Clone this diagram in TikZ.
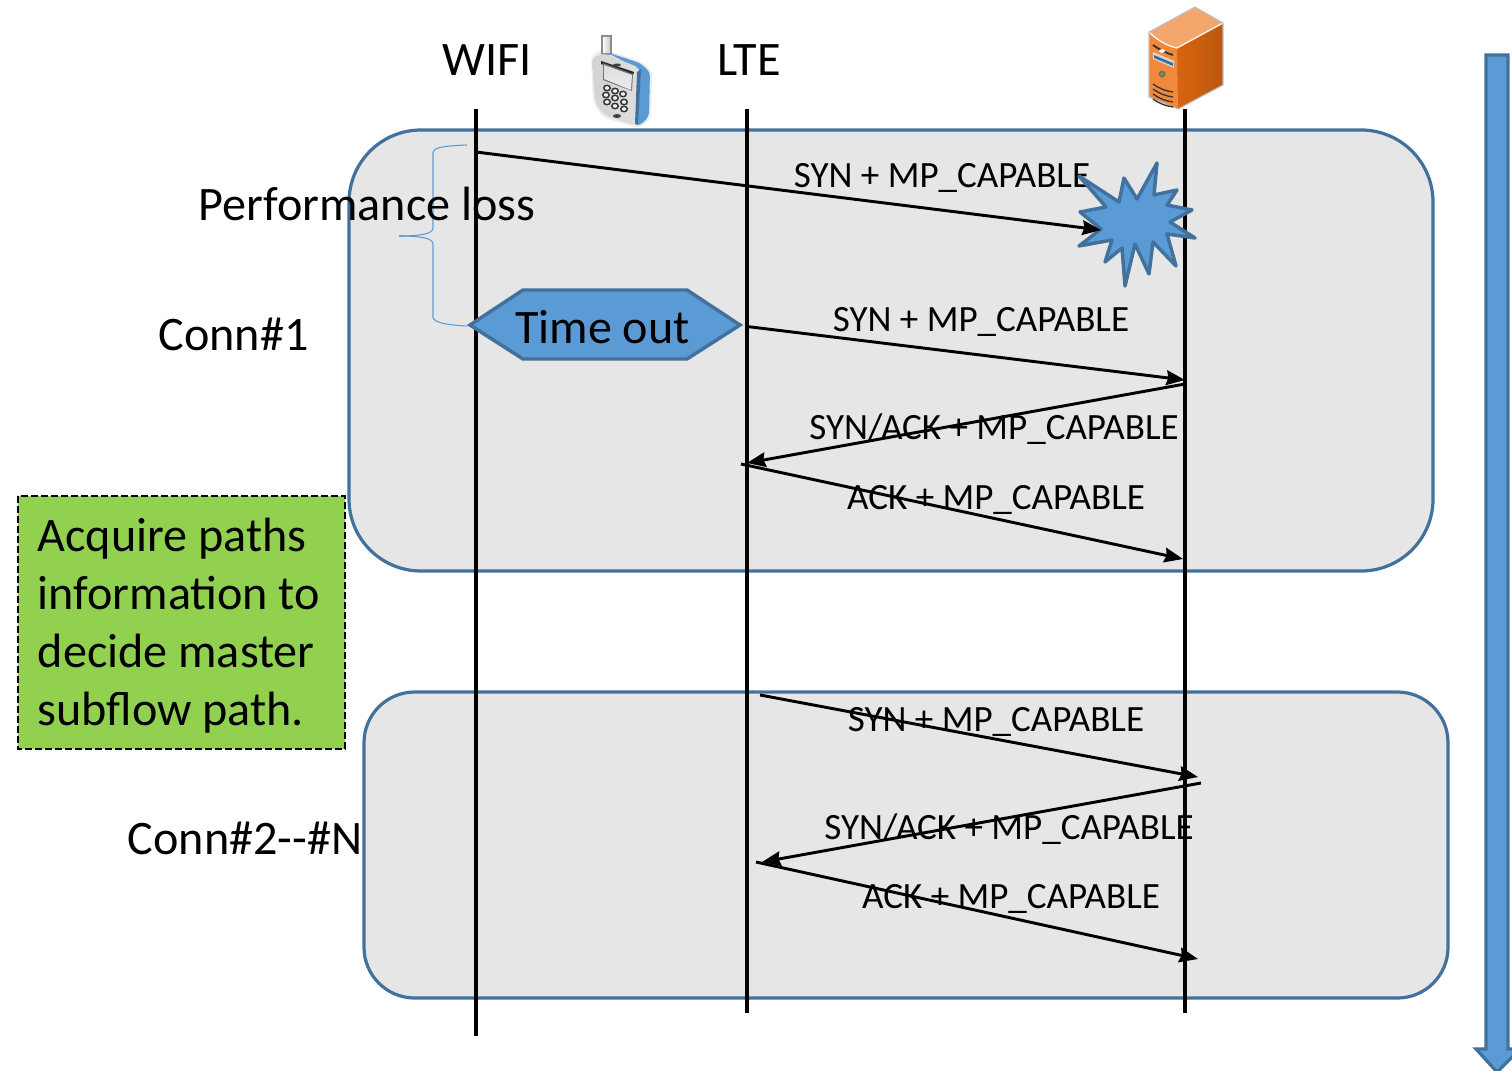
\documentclass[tikz,border=0pt]{standalone}
\usepackage{fontspec}
\setmainfont{Carlito}
\usetikzlibrary{arrows.meta}
\definecolor{shapeblue}{HTML}{5B9BD5}
\definecolor{shapeedge}{HTML}{41719C}
\definecolor{panelgrey}{HTML}{E6E6E6}
\definecolor{paneledge}{HTML}{41719C}
\definecolor{greenbox}{HTML}{92D050}
\definecolor{srvtopc}{HTML}{F4A76C}
\definecolor{srvfrontc}{HTML}{F0893B}
\definecolor{srvsidea}{HTML}{D9650F}
\definecolor{srvsideb}{HTML}{B9580F}
\tikzset{
  panel/.style={draw=paneledge,fill=panelgrey,line width=2.4pt},
  lifeline/.style={draw=black,line width=2.4pt},
  msg/.style={draw=black,line width=2.2pt,-{Stealth[length=14pt,width=11pt,inset=1.5pt]}},
  bigtext/.style={inner sep=0pt,font=\fontsize{36.1}{43}\selectfont,text=black},
  msgtext/.style={inner sep=0pt,font=\fontsize{27.8}{33}\selectfont,text=black},
  blueshape/.style={draw=shapeedge,fill=shapeblue,line width=2.6pt,line join=round},
  bracestyle/.style={draw=shapeblue,line width=0.8pt},
}
\begin{document}
\begin{tikzpicture}[x=0.75pt,y=-0.75pt]
\useasboundingbox (0,0) rectangle (1512,1070);
\clip (0,0) rectangle (1512,1070);
\fill[white] (0,0) rectangle (1512,1070);
% panels
\draw[panel,rounded corners=54pt] (349,130) rectangle (1433,571);
\draw[panel,rounded corners=38pt] (364,692) rectangle (1448,998);
% brace
\draw[bracestyle] (467,145) .. controls (445,146) and (433,147) .. (433,153) -- (433,228) .. controls (433,234) and (420,236) .. (399,236);
\draw[bracestyle] (399,236) .. controls (420,236) and (433,238) .. (433,244) -- (433,317) .. controls (433,322) and (445,325) .. (467,326);
% coordinates
\coordinate (wifitop) at (476,109); \coordinate (wifibot) at (476,1036);
\coordinate (ltetop) at (747,109); \coordinate (ltebot) at (747,1013);
\coordinate (srvtop) at (1185,109); \coordinate (srvbot) at (1185,1013);
\draw[lifeline] (wifitop) -- (wifibot);
\draw[lifeline] (ltetop) -- (ltebot);
\draw[lifeline] (srvtop) -- (srvbot);
% message labels
\node[msgtext] (l1) at (942,177.5) {SYN + MP\_CAPABLE};
\node[msgtext] (l2) at (981,321.5) {SYN + MP\_CAPABLE};
\node[msgtext] (l3) at (994,429.5) {SYN/ACK + MP\_CAPABLE};
\node[msgtext] (l4) at (996,499.5) {ACK + MP\_CAPABLE};
\node[msgtext] (l5) at (996,721.5) {SYN + MP\_CAPABLE};
\node[msgtext] (l6) at (1009,829.5) {SYN/ACK + MP\_CAPABLE};
\node[msgtext] (l7) at (1011,898.5) {ACK + MP\_CAPABLE};
% message coordinates
\coordinate (a1s) at (476,152); \coordinate (a1e) at (1101,230);
\coordinate (a2s) at (747,326.5); \coordinate (a2e) at (1185,380);
\coordinate (a3s) at (1185,384); \coordinate (a3e) at (747,463);
\coordinate (a4s) at (741,464); \coordinate (a4e) at (1183,559);
\coordinate (a5s) at (760,695); \coordinate (a5e) at (1198,777);
\coordinate (a6s) at (1201,783); \coordinate (a6e) at (762,862);
\coordinate (a7s) at (756,862); \coordinate (a7e) at (1198,959);
% star
\draw[blueshape] (1079,176) -- (1119,202) -- (1124,178) -- (1137,199) -- (1157,163) -- (1154,195) -- (1177,190) -- (1167,205) -- (1192,210) -- (1170,222) -- (1195,238) -- (1167,234) -- (1176,266) -- (1153,242) -- (1149,274) -- (1135,244) -- (1125,286) -- (1122,248) -- (1105,262) -- (1112,240) -- (1079,246) -- (1101,229) -- (1080,212) -- (1106,207) -- cycle;
\draw[msg] (a1s) -- (a1e);
\draw[msg] (a2s) -- (a2e);
\draw[msg] (a3s) -- (a3e);
\draw[msg] (a4s) -- (a4e);
\draw[msg] (a5s) -- (a5e);
\draw[msg] (a6s) -- (a6e);
\draw[msg] (a7s) -- (a7e);
% time out
\draw[blueshape,line join=miter] (470,325) -- (523,290) -- (687,290) -- (740,325) -- (687,359) -- (523,359) -- cycle;
\node[bigtext] (timeout) at (602.5,327) {Time out};
% big labels
\node[bigtext] (wifi) at (487,60) {WIFI};
\node[bigtext] (lte) at (749,60) {LTE};
\node[bigtext] (perf) at (367,204) {Performance loss};
\node[bigtext] (conn1) at (233.5,334) {Conn\#1};
\node[bigtext] (conn2) at (245,838) {Conn\#2-{}-\#N};
% green box
\draw[fill=greenbox,draw=black,line width=1.4pt,dash pattern=on 5pt off 2.5pt] (18,496) rectangle (345,749);
\node[bigtext,anchor=north west,align=left,font=\fontsize{36.1}{43.5}\selectfont] (acq) at (37.5,518) {Acquire paths\\information to\\decide master\\subflow path.};
% down arrow
\draw[blueshape,line join=miter,line width=2.4pt] (1486,55) -- (1508,55) -- (1508,1049) -- (1520,1049) -- (1497,1072) -- (1476,1049) -- (1486,1049) -- cycle;
% phone
\path[fill=gray!15,rounded corners=4pt] (591,56) -- (603,49) -- (642,62) -- (652,71) -- (651,118) -- (640,128) -- (604,118) -- (593,103) -- cycle;
\draw[black!45,line width=1.4pt,left color=white,right color=gray!45] (602,36) rectangle (611,54);
\path[fill=shapeblue,rounded corners=3pt] (606,52) -- (640,63) -- (650,72) -- (649,116) -- (641,125) -- (636,125) -- (640,70) -- cycle;
\path[left color=gray!35,middle color=white,right color=gray!25,rounded corners=4pt] (592,58) -- (603,53) -- (640,68) -- (637,126) -- (604,115) -- (595,102) -- cycle;
\path[fill=shapeedge] (637,72) -- (641,69) -- (638,125) -- (635,124) -- cycle;
\path[fill=black!85] (601,61) -- (634,72) -- (633,75) -- (601,64) -- cycle;
\path[fill=black!55] (603,63) -- (633,74) -- (632,91) -- (603,80) -- cycle;
\path[top color=blue!8!gray!25,bottom color=gray!15] (604,65) -- (632,75) -- (631,90) -- (604,79) -- cycle;
\foreach \px/\py in {607/88,615/91,623/94,606/95,615/98,624/102,607/102,615/106,624/109}{
  \draw[black!80,line width=1.1pt,fill=gray!10] (\px,\py) ellipse (3.2 and 2.7);
}
\fill[black!75] (617,116) ellipse (4 and 2);
\fill[black!75] (617,65) ellipse (4 and 1.5);
% server
\path[fill=srvtopc] (1149,32) -- (1195,7) -- (1223,23) -- (1177,48) .. controls (1167,46) and (1157,40) .. cycle;
\path[left color=srvsidea,right color=srvsideb] (1177,48) -- (1223,23) -- (1223,85) -- (1178,109) -- cycle;
\path[fill=srvfrontc] (1149,32) .. controls (1157,40) and (1167,46) .. (1177,48) -- (1178,109) -- (1149,97) -- cycle;
\draw[white,line width=0.9pt] (1149,32) .. controls (1157,40) and (1167,46) .. (1177,48) -- (1223,23);
\draw[gray!50,line width=0.8pt] (1149,32) -- (1195,7) -- (1223,23) -- (1223,85) -- (1178,109) -- (1149,97) -- cycle;
\draw[black!80,line width=1.4pt] (1153,45) .. controls (1160,50) and (1166,53) .. (1173,55);
\fill[gray!30] (1153,52) -- (1174,61) -- (1174,68) -- (1153,59) -- cycle;
\fill[shapeblue!70!black] (1154,55) -- (1173,63) -- (1173,66) -- (1154,58) -- cycle;
\fill[white] (1162,51) ellipse (3 and 1.8);
\draw[gray!80!black,fill=green!30!gray,line width=1pt] (1162,74) circle (2.6);
\foreach \dy in {0,5,10,15}{
  \draw[black!80,line width=1pt] (1153,84+\dy) .. controls (1160,89+\dy) and (1166,91+\dy) .. (1173,92+\dy);
}
\end{tikzpicture}
\end{document}
